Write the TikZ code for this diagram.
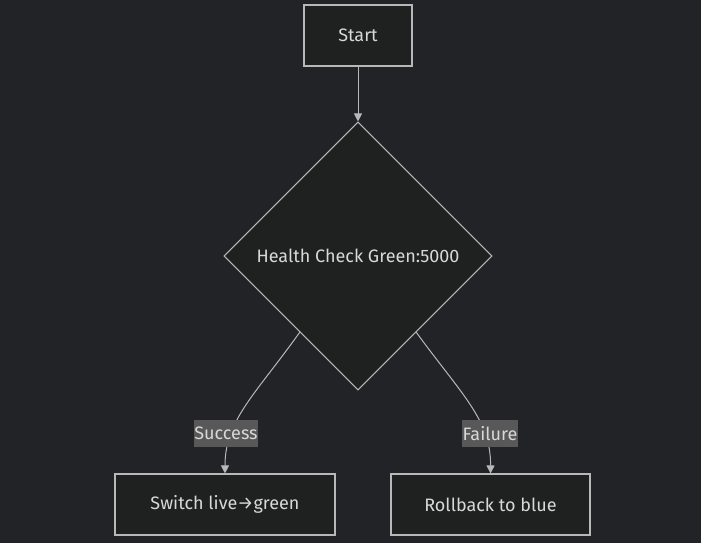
\documentclass[tikz,border=0pt]{standalone}
\usepackage{fontspec}
\setmainfont{Fira Sans}
\usetikzlibrary{shapes.geometric,arrows.meta,calc}

\definecolor{bgdark}{HTML}{222327}
\definecolor{nodefill}{HTML}{1F2020}
\definecolor{nodeline}{HTML}{B8B8B8}
\definecolor{txtlight}{HTML}{D8D8D8}
\definecolor{lblfill}{HTML}{585858}

\tikzset{
  flowbox/.style={draw=nodeline, fill=nodefill, line width=0.8pt, text=txtlight,
    minimum height=61*0.75pt, inner sep=0pt, font=\fontsize{13.5}{16}\selectfont},
  decision/.style={diamond, aspect=1, draw=nodeline, fill=nodefill, line width=0.8pt,
    text=txtlight, minimum width=268*0.75pt, minimum height=268*0.75pt, inner sep=0pt,
    font=\fontsize{13.5}{16}\selectfont},
  edgelabel/.style={fill=lblfill, text=txtlight, inner sep=0.5pt, minimum height=27*0.75pt,
    font=\fontsize{13.5}{16}\selectfont},
  link/.style={draw=nodeline, line width=0.75pt, -{Triangle[width=6pt,length=6pt]}}
}

\begin{document}
\begin{tikzpicture}[x=0.75pt,y=-0.75pt]
  \fill[bgdark] (0,0) rectangle (701,543);
  \useasboundingbox (0,0) rectangle (701,543);

  \node[flowbox, minimum width=108*0.75pt] (start) at (358,35.5) {Start};
  \node[decision] (check) at (358,256) {Health Check Green:5000};
  \node[flowbox, minimum width=220*0.75pt] (switch) at (225,504.5) {Switch live→green};
  \node[flowbox, minimum width=199*0.75pt] (rollback) at (490.5,504.5) {Rollback to blue};

  \coordinate (lo) at ($(check.west)!0.567!(check.south)$);
  \coordinate (ro) at ($(check.east)!0.567!(check.south)$);

  \draw[link] (start) -- (check);
  \draw[link] (lo) .. controls (255,395) and (225,420) .. (switch.north)
    node[edgelabel, pos=0.7, xshift=-5pt, yshift=-1.5pt] (succ) {Success};
  \draw[link] (ro) .. controls (462,395) and (491,420) .. (rollback.north)
    node[edgelabel, pos=0.7, xshift=5pt, yshift=-1.5pt] (fail) {Failure};
\end{tikzpicture}
\end{document}
